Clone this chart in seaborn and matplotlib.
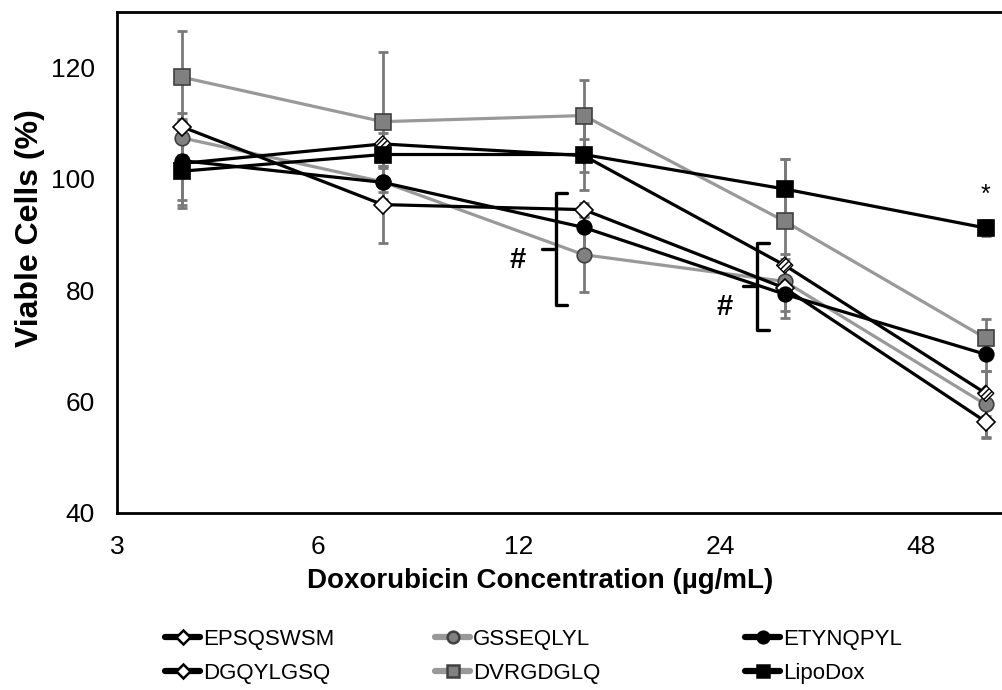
import matplotlib
matplotlib.use("Agg")
import matplotlib.pyplot as plt
from matplotlib.lines import Line2D
from matplotlib.ticker import FixedLocator, FixedFormatter, NullLocator
from matplotlib import font_manager
import seaborn as sns

# ---------------- data ----------------
conc = [3.75, 7.5, 15, 30, 60]
x_ticks = [3, 6, 12, 24, 48]
x_tick_labels = ["3", "6", "12", "24", "48"]
y_ticks = [40, 60, 80, 100, 120]

EPSQSWSM = [109.4, 95.4, 94.5, 80.4, 56.4]
GSSEQLYL = [107.4, 99.5, 86.4, 81.6, 59.5]
ETYNQPYL = [103.3, 99.4, 91.3, 79.3, 68.5]
DGQYLGSQ = [102.8, 106.3, 104.2, 84.5, 61.5]
DVRGDGLQ = [118.3, 110.3, 111.4, 92.4, 71.4]
LipoDox = [101.4, 104.4, 104.4, 98.2, 91.2]

EPSQSWSM_err = [2.5, 6.9, 1.2, 5.3, 2.7]
GSSEQLYL_err = [3.1, 4.0, 6.7, 3.0, 6.0]
ETYNQPYL_err = [7.0, 3.0, 4.0, 3.0, 3.0]
DGQYLGSQ_err = [8.0, 2.0, 3.0, 2.0, 4.0]
DVRGDGLQ_err = [8.3, 12.6, 6.3, 11.2, 3.5]
LipoDox_err = [6.0, 2.5, 6.3, 5.4, 1.5]

# ---------------- style ----------------
sns.set_style("white")
plt.rcParams["font.family"] = ["Liberation Sans", "DejaVu Sans"]
plt.rcParams["hatch.linewidth"] = 1.0
for key in ["text.color", "axes.labelcolor", "xtick.color", "ytick.color", "axes.edgecolor"]:
    plt.rcParams[key] = "black"

available = {f.name for f in font_manager.fontManager.ttflist}
if "Liberation Sans Narrow" in available:
    legend_family = ["Liberation Sans Narrow", "DejaVu Sans"]
    legend_size = 19
else:
    legend_family = ["Liberation Sans", "DejaVu Sans"]
    legend_size = 16
legend_px = legend_size * 100 / 72

W, H = 1002, 690
fig = plt.figure(figsize=(W / 100, H / 100), dpi=100)
ax_left, ax_top, ax_bottom = 117, 12, 513
ax_width = 5 * 201
ax = fig.add_axes([ax_left / W, (H - ax_bottom) / H, ax_width / W, (ax_bottom - ax_top) / H])

BLACK = "#000000"
GRAY_LINE = "#999999"
GRAY_FILL = "#808080"
GRAY_EDGE = "#404040"
ERR = "#7a7a7a"

series = [
    ("EPSQSWSM", EPSQSWSM, EPSQSWSM_err, BLACK, "D", "white", BLACK, 9.5),
    ("GSSEQLYL", GSSEQLYL, GSSEQLYL_err, GRAY_LINE, "o", GRAY_FILL, GRAY_EDGE, 10.5),
    ("ETYNQPYL", ETYNQPYL, ETYNQPYL_err, BLACK, "o", BLACK, BLACK, 10.5),
    ("DGQYLGSQ", DGQYLGSQ, DGQYLGSQ_err, BLACK, "D", "white", BLACK, 9.5),
    ("DVRGDGLQ", DVRGDGLQ, DVRGDGLQ_err, GRAY_LINE, "s", GRAY_FILL, GRAY_EDGE, 11),
    ("LipoDox", LipoDox, LipoDox_err, BLACK, "s", BLACK, BLACK, 11),
]

# error bars first (behind)
for name, vals, err, lc, mk, fc, ec, ms in series:
    ax.errorbar(conc, vals, yerr=err, fmt="none", ecolor=ERR, elinewidth=2.0,
                capsize=3.5, capthick=2.0, zorder=2)

# lines + markers
draw_order = ["DVRGDGLQ", "GSSEQLYL", "EPSQSWSM", "DGQYLGSQ", "ETYNQPYL", "LipoDox"]
lookup = {s[0]: s for s in series}
for i, name in enumerate(draw_order):
    _, vals, err, lc, mk, fc, ec, ms = lookup[name]
    if name == "DGQYLGSQ":
        sns.lineplot(x=conc, y=vals, color=lc, linewidth=2.3, ax=ax, zorder=3 + i)
        sns.scatterplot(x=conc, y=vals, marker="D", s=ms ** 2 * 0.75, facecolor="white",
                        edgecolor=BLACK, linewidth=1.0, hatch="//////", ax=ax, zorder=3 + i + 0.5)
    else:
        sns.lineplot(x=conc, y=vals, color=lc, linewidth=2.3, marker=mk, markersize=ms,
                     markerfacecolor=fc, markeredgecolor=ec, markeredgewidth=1.2,
                     ax=ax, zorder=3 + i)

# ---------------- axes ----------------
ax.set_xscale("log", base=2)
ax.set_xlim(3, 96)
ax.set_ylim(40, 130)
ax.xaxis.set_major_locator(FixedLocator(x_ticks))
ax.xaxis.set_major_formatter(FixedFormatter(x_tick_labels))
ax.xaxis.set_minor_locator(NullLocator())
ax.set_yticks(y_ticks)
ax.tick_params(axis="both", which="both", length=0, labelsize=19, colors="black")
ax.tick_params(axis="x", pad=16)
ax.tick_params(axis="y", pad=16)
for sp in ["left", "bottom", "top", "right"]:
    ax.spines[sp].set_visible(True)
    ax.spines[sp].set_color("black")
    ax.spines[sp].set_linewidth(2.0)
ax.grid(False)

ax.set_xlabel("Doxorubicin Concentration (µg/mL)", fontsize=20, fontweight="bold", color="black")
ax.xaxis.set_label_coords((540 - ax_left) / ax_width, -(568 - ax_bottom) / (ax_bottom - ax_top))
ax.set_ylabel("Viable Cells (%)", fontsize=23, fontweight="bold", color="black")
ax.yaxis.set_label_coords((45 - ax_left) / ax_width, (ax_bottom - 228) / (ax_bottom - ax_top))

# ---------------- annotations ----------------
br_kw = dict(color="black", linewidth=2.4, solid_joinstyle="round", solid_capstyle="round", zorder=20)
# bracket 1
ax.plot([14.16, 13.63, 13.63, 14.16], [97.5, 97.5, 77.4, 77.4], **br_kw)
ax.plot([13.0, 13.63], [87.4, 87.4], **br_kw)
ax.text(11.96, 85.5, "#", fontsize=21, fontweight="bold", ha="center", va="center")
# bracket 2
ax.plot([28.45, 27.27, 27.27, 28.45], [88.5, 88.5, 72.9, 72.9], **br_kw)
ax.plot([26.0, 27.27], [80.7, 80.7], **br_kw)
ax.text(24.4, 77.0, "#", fontsize=21, fontweight="bold", ha="center", va="center")
# star
ax.text(60, 97.2, "*", fontsize=18, ha="center", va="center")

# ---------------- legend ----------------
def handle(name):
    _, vals, err, lc, mk, fc, ec, ms = lookup[name]
    if name == "DGQYLGSQ":
        fc = "white"
    return Line2D([], [], color=lc, linewidth=4.5, marker=mk, markersize=ms * 0.8,
                  markerfacecolor=fc, markeredgecolor=ec, markeredgewidth=1.8)

columns = [(["EPSQSWSM", "DGQYLGSQ"], 165), (["GSSEQLYL", "DVRGDGLQ"], 435), (["ETYNQPYL", "LipoDox"], 745)]
for names, xpx in columns:
    fig.legend([handle(n) for n in names], names, loc="center left",
               bbox_to_anchor=(xpx / W, (H - 656) / H), frameon=False,
               prop={"family": legend_family, "size": legend_size},
               handlelength=35 / legend_px, handletextpad=3 / legend_px,
               borderpad=0, borderaxespad=0, labelspacing=13 / legend_px)

fig.savefig("out.png", dpi=100)
